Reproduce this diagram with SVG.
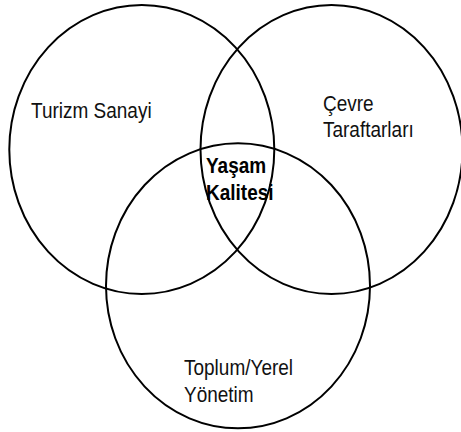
<svg xmlns="http://www.w3.org/2000/svg" width="461" height="432" viewBox="0 0 461 432">
<style>
.c{fill:none;stroke:#000;stroke-width:2}
.t{font-family:"Liberation Sans",Arial,sans-serif;font-size:19px;fill:#111}
.b{font-weight:bold;fill:#000}
</style>
<rect width="461" height="432" fill="#fff"/>
<g id="turizm">
<ellipse class="c" cx="141.8" cy="149.5" rx="132.5" ry="144.5"/>
<text class="t" transform="translate(31,118) scale(1,1.12)">Turizm Sanayi</text>
</g>
<g id="cevre">
<ellipse class="c" cx="331.5" cy="149.5" rx="131" ry="144.5"/>
<text class="t" transform="translate(323,111) scale(1,1.12)"><tspan x="0" y="0">Çevre</tspan><tspan x="0" y="23.5">Taraftarları</tspan></text>
</g>
<g id="toplum">
<ellipse class="c" cx="238" cy="285.8" rx="132" ry="142.5"/>
<text class="t" transform="translate(184,375) scale(1,1.12)"><tspan x="0" y="0">Toplum/Yerel</tspan><tspan x="0" y="24">Yönetim</tspan></text>
</g>
<g id="yasam">
<text class="t b" transform="translate(206,173) scale(1,1.12)"><tspan x="0" y="0">Yaşam</tspan><tspan x="0" y="24.5">Kalitesi</tspan></text>
</g>
<g id="connectors"/>
</svg>
